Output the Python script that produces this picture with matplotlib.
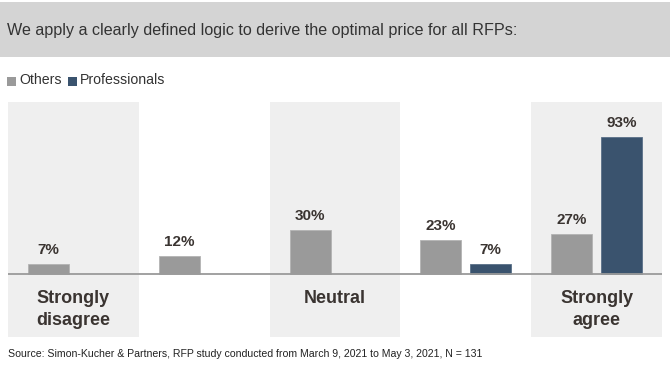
import matplotlib
matplotlib.use("Agg")
import matplotlib.pyplot as plt
from matplotlib.patches import Rectangle
import numpy as np

# ---- data ----
categories = ["Strongly\ndisagree", "", "Neutral", "", "Strongly\nagree"]
others = [7, 12, 30, 23, 27]
professionals = [0, 0, 0, 7, 93]
series_names = ["Others", "Professionals"]
title = "We apply a clearly defined logic to derive the optimal price for all RFPs:"
source = "Source: Simon-Kucher & Partners, RFP study conducted from March 9, 2021 to May 3, 2021, N = 131"

c_others = "#9a9a9a"
c_prof = "#3a536e"
c_text = "#3a3431"

W, H = 670, 371
fig = plt.figure(figsize=(W / 100, H / 100), dpi=100)

light = ["Liberation Sans", "DejaVu Sans"]
bold = ["Liberation Sans", "DejaVu Sans"]

# title band
fig.patches.append(Rectangle((0, 1 - 57 / H), 1, 55 / H, transform=fig.transFigure,
                             facecolor="#d4d4d4", edgecolor="none", zorder=0))
fig.text(7 / W, 1 - 30 / H, title, family=light, fontsize=11.6, color="#333333",
         va="center", ha="left")

# legend
for i, (name, col, x0) in enumerate(zip(series_names, [c_others, c_prof], [7, 68])):
    fig.patches.append(Rectangle((x0 / W, 1 - 86 / H), 9 / W, 9 / H, transform=fig.transFigure,
                                 facecolor=col, edgecolor="none"))
    fig.text((x0 + 12) / W, 1 - 80 / H, name, family=light, fontsize=10.2, color="#333333",
             va="center", ha="left")

# axes
ax = fig.add_axes([8 / W, 1 - 337 / H, 654 / W, 235 / H])
ax.set_xlim(-0.5, 4.5)
ax.set_ylim(-42.8, 116.8)
ax.axis("off")

x = np.arange(len(others))
for i in range(0, len(x), 2):
    ax.axvspan(i - 0.5, i + 0.5, color="#efefef", zorder=0, lw=0)

bw = 0.313
off = 0.19
b1 = ax.bar(x - off, others, bw, color=c_others, edgecolor="#b3b3b3", linewidth=0.6, zorder=2)
prof_vals = np.array(professionals, dtype=float)
b2 = ax.bar(x + off, np.where(prof_vals > 0, prof_vals, np.nan), bw, color=c_prof,
            edgecolor="#5a7088", linewidth=0.6, zorder=2)
ax.axhline(0, color="#9a9a9a", lw=1.3, zorder=3)

for xs, vals in [(x - off, others), (x + off, professionals)]:
    for xi, v in zip(xs, vals):
        if v > 0:
            ax.annotate(f"{v}%", (xi, v), xytext=(0, 5), textcoords="offset points",
                        ha="center", va="bottom", fontsize=11, fontweight="bold",
                        family=bold, color=c_text)

for xi, lab in zip(x, categories):
    if lab:
        ax.text(xi, -11.0, lab, ha="center", va="top", fontsize=13, fontweight="bold",
                family=bold, color=c_text, linespacing=1.4)

fig.text(8 / W, 1 - 354 / H, source, family=["Liberation Sans", "DejaVu Sans"],
         fontsize=7.55, color="#222222", va="center", ha="left")

fig.savefig("out.png", dpi=100)
